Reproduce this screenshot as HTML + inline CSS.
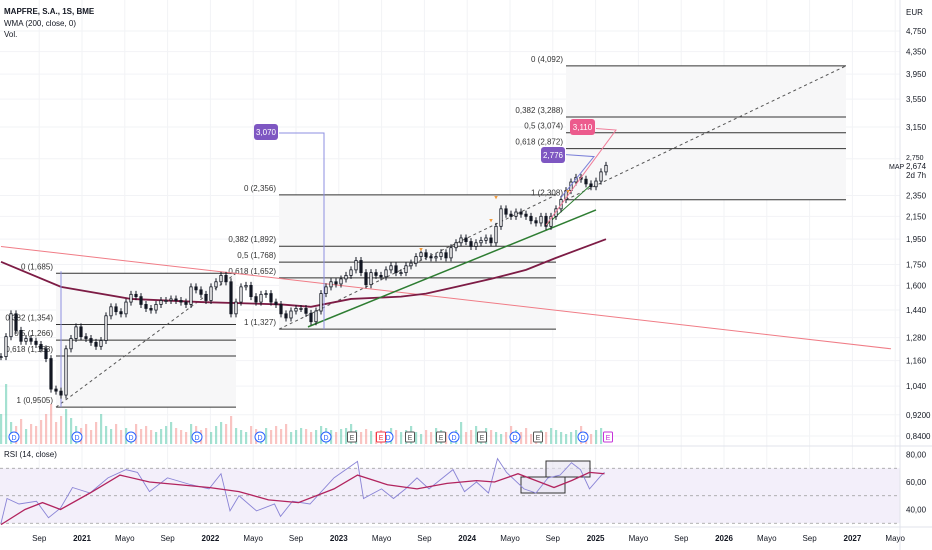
<!DOCTYPE html>
<html><head><meta charset="utf-8"><style>
html,body{margin:0;padding:0;background:#fff;}
svg{display:block;font-family:"Liberation Sans",sans-serif;}
</style></head><body>
<svg id="c" width="932" height="550" viewBox="0 0 932 550" xmlns="http://www.w3.org/2000/svg"></svg>
<script>
// ---- data ----
const closes=[1.18,1.285,1.417,1.32,1.26,1.275,1.26,1.243,1.22,1.17,1.027,1.018,1.001,1.22,1.275,1.34,1.285,1.275,1.254,1.233,1.264,1.405,1.46,1.43,1.417,1.49,1.54,1.525,1.475,1.45,1.44,1.475,1.50,1.50,1.51,1.50,1.49,1.475,1.59,1.57,1.54,1.50,1.59,1.625,1.67,1.625,1.417,1.49,1.59,1.60,1.525,1.49,1.54,1.545,1.49,1.475,1.417,1.392,1.434,1.45,1.45,1.42,1.37,1.434,1.545,1.59,1.625,1.61,1.645,1.67,1.71,1.78,1.69,1.605,1.69,1.67,1.66,1.71,1.74,1.69,1.69,1.74,1.76,1.81,1.84,1.81,1.80,1.81,1.84,1.80,1.88,1.92,1.96,1.93,1.89,1.92,1.94,1.96,1.92,2.06,2.22,2.17,2.15,2.19,2.17,2.15,2.11,2.09,2.15,2.06,2.15,2.22,2.31,2.40,2.49,2.54,2.52,2.47,2.44,2.50,2.60,2.674];
const volumes=[30,60,22,18,25,15,20,18,24,30,40,22,28,35,26,18,16,20,14,22,30,18,15,20,14,16,12,20,15,18,14,12,15,18,22,16,14,12,20,18,14,16,12,18,22,20,28,16,14,12,18,15,12,16,14,18,15,20,12,14,16,15,12,14,18,16,14,12,15,16,20,14,12,15,13,12,14,12,16,14,12,14,18,12,10,14,12,16,14,12,10,14,22,12,14,18,12,16,14,12,10,12,18,14,12,16,10,12,14,12,16,14,12,10,12,14,18,12,10,14,16];
const wmaIdx=[0,12,26,40,56,62,70,80,85,91,98,105,111,121];
const wmaVals=[1.77,1.59,1.51,1.49,1.475,1.46,1.51,1.525,1.545,1.59,1.645,1.71,1.80,1.95];
const rsiIdx=[0,1.2,3.6,7.1,9.5,11.9,14.3,17.8,21.4,25,27.3,29.7,33.3,38,41.6,44,45.8,47.6,51.1,54.7,55.9,58.3,61.8,66.6,71.3,72.5,76.1,78.5,80.9,83.2,85.6,90.4,92.7,95.1,97.5,99.3,101.1,104.6,107,109.4,111.8,114.1,115.9,117.7,120.1,120.7];
const rsiVals=[30,48,44,46,34,41,56,52,63,69,67,53,63,58,55,66,39,50,39,44,35,46,44,63,75,48,55,48,55,63,55,69,53,60,52,77,67,55,52,63,65,74,69,55,65,67];
const rsiMaIdx=[0,4.8,8.3,11.9,17.8,23.8,29.7,35.7,41.6,47.6,53.5,59.5,66.6,71.3,77.3,83.2,89.2,95.1,98.7,103.4,107,110.6,114.1,117.7,120.7];
const rsiMaVals=[29,40,45,40,52,65,60,58,56,53,47,45,55,65,58,55,59,61,60,66,61,56,61,67,66];
const priceTicks=[4.75,4.35,3.95,3.55,3.15,2.75,2.35,2.15,1.95,1.75,1.60,1.44,1.28,1.16,1.04,0.92,0.84];
const priceTickLabels=["4,750","4,350","3,950","3,550","3,150","2,750","2,350","2,150","1,950","1,750","1,600","1,440","1,280","1,160","1,040","0,9200","0,8400"];
const rsiTicks=[80,60,40];
const rsiTickLabels=["80,00","60,00","40,00"];
const dateMonths=[-4,0,4,8,12,16,20,24,28,32,36,40,44,48,52,56,60,64,68,72,76];
const dateLabels=["Sep","2021","Mayo","Sep","2022","Mayo","Sep","2023","Mayo","Sep","2024","Mayo","Sep","2025","Mayo","Sep","2026","Mayo","Sep","2027","Mayo"];
const fibs=[
 {i0:11,i1:47,levels:[[0,1.685],[0.382,1.354],[0.5,1.266],[0.618,1.183],[1,0.9505]],lab:["0 (1,685)","0,382 (1,354)","0,5 (1,266)","0,618 (1,183)","1 (0,9505)"]},
 {i0:55.6,i1:111,levels:[[0,2.356],[0.382,1.892],[0.5,1.768],[0.618,1.652],[1,1.327]],lab:["0 (2,356)","0,382 (1,892)","0,5 (1,768)","0,618 (1,652)","1 (1,327)"]},
 {i0:113,i1:169,levels:[[0,4.092],[0.382,3.288],[0.5,3.074],[0.618,2.872],[1,2.308]],lab:["0 (4,092)","0,382 (3,288)","0,5 (3,074)","0,618 (2,872)","1 (2,308)"]}
];
// ---- scales ----
const X=i=>1+i*5;
const Y=p=>31+233.8*(Math.log(4.75)-Math.log(p));
const RY=v=>482-(v-60)*1.375;
const DX=m=>82+m*10.7;
const svg=document.getElementById('c');
const NS='http://www.w3.org/2000/svg';
function mk(tag,at,parent){const e=document.createElementNS(NS,tag);for(const k in at)e.setAttribute(k,at[k]);(parent||svg).appendChild(e);return e;}
function txt(s,at,parent){const e=mk('text',at,parent);e.textContent=s;return e;}
// grid
const grid=mk('g',{});
priceTicks.forEach(p=>mk('line',{x1:0,x2:900,y1:Y(p),y2:Y(p),stroke:'#f2f3f6'},grid));
dateMonths.forEach(m=>mk('line',{x1:DX(m),x2:DX(m),y1:0,y2:525,stroke:'#f2f3f6'},grid));
// fib regions
fibs.forEach((f,k)=>{
 const g=mk('g',{});
 const yt=Y(f.levels[0][1]),yb=Y(f.levels[4][1]);
 mk('rect',{x:X(f.i0),y:yt,width:X(f.i1)-X(f.i0),height:yb-yt,fill:'#f7f7f8'},g);
 f.levels.forEach((l,j)=>{mk('line',{x1:X(f.i0),x2:X(f.i1),y1:Y(l[1]),y2:Y(l[1]),stroke:'#333','stroke-width':1},g);
  txt(f.lab[j],{x:X(f.i0)-3,y:Y(l[1])-4,'font-size':8,'text-anchor':'end',fill:'#333'},g);});
 mk('line',{x1:X(f.i0),y1:yb,x2:X(f.i1),y2:yt,stroke:'#555','stroke-dasharray':'3,3'},g);
});
// trendline red
const tr=mk('line',{x1:X(0),y1:Y(1.89),x2:X(178),y2:Y(1.22),stroke:'#f07c86','stroke-width':1});

// WMA
const wp=wmaIdx.map((i,k)=>X(i)+','+Y(wmaVals[k])).join(' ');
const wma=mk('polyline',{points:wp,fill:'none',stroke:'#7d1c45','stroke-width':1.8});

// green trendlines
const g1=mk('line',{x1:X(61.4),y1:Y(1.34),x2:X(119),y2:Y(2.21),stroke:'#2e7d32','stroke-width':1.5});

const g2=mk('line',{x1:X(109),y1:Y(2.07),x2:X(118),y2:Y(2.46),stroke:'#2e7d32','stroke-width':1});

// vertical measure lines
const v1=mk('line',{x1:X(12),y1:Y(1.70),x2:X(12),y2:Y(0.9505),stroke:'#8c8fe0','stroke-width':1});

const v2=mk('polyline',{points:`${X(55.6)},${Y(3.07)} ${X(64.6)},${Y(3.07)} ${X(64.6)},${Y(1.327)}`,fill:'none',stroke:'#8c8fe0','stroke-width':1});

// volume
const vg=mk('g',{opacity:0.5});
volumes.forEach((v,i)=>{const up=i==0||closes[i]>=closes[i-1];
 const b=mk('rect',{x:X(i)-1,y:444-v,width:2.2,height:v,fill:up?'#4cc4a4':'#f48a87'},vg);
 });
// candles
const cg=mk('g',{});
closes.forEach((c,i)=>{const o=i?closes[i-1]:c;const hi=Math.max(o,c)*1.015,lo=Math.min(o,c)*0.985;
 const b=mk('line',{x1:X(i),x2:X(i),y1:Y(hi),y2:Y(lo),stroke:'#131722','stroke-width':1},cg);
 
 const r=mk('rect',{x:X(i)-1.2,y:Y(Math.max(o,c)),width:2.4,height:Math.max(1,Math.abs(Y(o)-Y(c))),fill:c>=o?'#fff':'#131722',stroke:'#131722','stroke-width':0.8},cg);
 });
// projection lines and labels
const pl=mk('polyline',{points:`${X(109)},${Y(2.07)} ${X(123)},${Y(3.11)} ${X(119)},${Y(3.13)}`,fill:'none',stroke:'#f07c99','stroke-width':1});

const bl=mk('polyline',{points:`${X(112)},${Y(2.33)} ${X(118.6)},${Y(2.776)} ${X(113)},${Y(2.80)}`,fill:'none',stroke:'#7a7fd8','stroke-width':1});

function badge(name,x,y,w,col,label){const g=mk('g',{});
 mk('rect',{x:x,y:y,width:w,height:16,rx:3,fill:col},g);txt(label,{x:x+w/2,y:y+11,'font-size':8,'text-anchor':'middle',fill:'#fff'},g);}
badge('label-3070',254,124,24,'#7e57c2','3,070');
badge('label-2776',541,147,24,'#7e57c2','2,776');
badge('label-3110',570,119,25,'#ec5b8d','3,110');
// markers D/E
const dMarks=[14,77,131,197,260,326,388,454,515,583];
const eMarks=[352,410,441,482,538];
dMarks.forEach(x=>{const g=mk('g',{});
 mk('circle',{cx:x,cy:437,r:5,fill:'#fff',stroke:'#2962ff'},g);txt('D',{x:x,y:440,'font-size':7,'text-anchor':'middle',fill:'#2962ff'},g);});
eMarks.forEach(x=>{const g=mk('g',{});
 mk('rect',{x:x-4.5,y:432,width:9,height:10,rx:1,fill:'#fff',stroke:'#555'},g);txt('E',{x:x,y:440,'font-size':7,'text-anchor':'middle',fill:'#555'},g);});
[[381,'#f23645'],[608,'#c534d9']].forEach(a=>{const g=mk('g',{});
 mk('rect',{x:a[0]-4.5,y:432,width:9,height:10,rx:1,fill:'#fff',stroke:a[1]},g);txt('E',{x:a[0],y:440,'font-size':7,'text-anchor':'middle',fill:a[1]},g);});
// orange markers
[[84,1.81],[98,2.05],[99,2.26],[113.4,2.32]].forEach(a=>{const t=txt('▾',{x:X(a[0]),y:Y(a[1])-5,'font-size':7,'text-anchor':'middle',fill:'#f39c3c'});});
// pane separator
mk('line',{x1:0,x2:932,y1:446,y2:446,stroke:'#e0e3eb'});
// RSI pane
const rg=mk('g',{});
mk('rect',{x:0,y:RY(70),width:900,height:RY(30)-RY(70),fill:'#f3effa'},rg);
[70,50,30].forEach(v=>mk('line',{x1:0,x2:900,y1:RY(v),y2:RY(v),stroke:'#999','stroke-dasharray':'3,3','stroke-width':0.8},rg));
mk('rect',{x:546,y:461,width:44,height:16,fill:'#e6e2f0',stroke:'#333','fill-opacity':0.6},rg);
mk('rect',{x:521,y:477,width:44,height:16,fill:'#e6e2f0',stroke:'#333','fill-opacity':0.6},rg);
const rl=mk('polyline',{points:rsiIdx.map((i,k)=>X(i)+','+RY(rsiVals[k])).join(' '),fill:'none',stroke:'#8a84d6','stroke-width':0.9});

const rm=mk('polyline',{points:rsiMaIdx.map((i,k)=>X(i)+','+RY(rsiMaVals[k])).join(' '),fill:'none',stroke:'#b2245e','stroke-width':1.3});

txt('RSI (14, close)',{x:4,y:457,'font-size':8,fill:'#131722'},rg);
// right axis
mk('line',{x1:900,x2:900,y1:0,y2:550,stroke:'#e0e3eb'});
mk('line',{x1:0,x2:932,y1:527,y2:527,stroke:'#e0e3eb'});
const ax=mk('g',{});
txt('EUR',{x:906,y:15,'font-size':8,fill:'#131722'},ax);
priceTicks.forEach((p,k)=>{if(k==5)return;txt(priceTickLabels[k],{x:906,y:Y(p)+3,'font-size':8,fill:'#131722'},ax);});
txt('2,750',{x:906,y:160,'font-size':7,fill:'#131722'},ax);
txt('2,674',{x:906,y:169,'font-size':8,fill:'#131722'},ax);
txt('2d 7h',{x:906,y:178,'font-size':8,fill:'#131722'},ax);
txt('MAP',{x:889,y:169,'font-size':7,fill:'#131722'},ax);
rsiTicks.forEach((v,k)=>txt(rsiTickLabels[k],{x:906,y:RY(v)+3,'font-size':8,fill:'#131722'},ax));
const tx=mk('g',{});
dateMonths.forEach((m,k)=>txt(dateLabels[k],{x:DX(m),y:541,'font-size':8,'text-anchor':'middle',fill:'#131722','font-weight':/^\d/.test(dateLabels[k])?'bold':'normal'},tx));
// legend
const lg=mk('g',{});
txt('MAPFRE, S.A., 1S, BME',{x:4,y:14,'font-size':8,'font-weight':'bold',fill:'#131722'},lg);
txt('WMA (200, close, 0)',{x:4,y:26,'font-size':8,fill:'#131722'},lg);
txt('Vol.',{x:4,y:37,'font-size':8,fill:'#131722'},lg);
</script>
</body></html>
